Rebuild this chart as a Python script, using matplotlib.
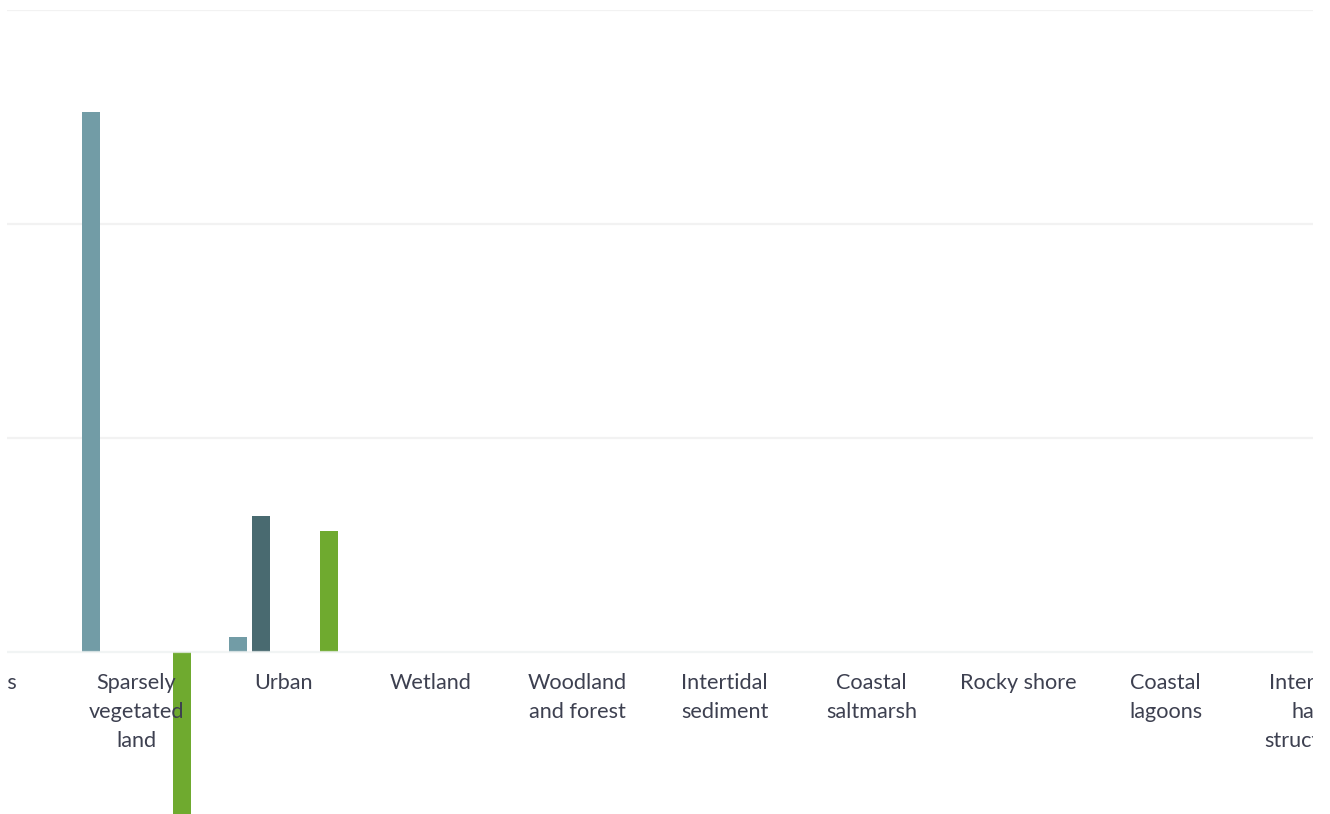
import matplotlib
matplotlib.use("Agg")
import matplotlib.pyplot as plt
import matplotlib.transforms as mtransforms
import numpy as np

categories = ["Lakes", "Sparsely\nvegetated\nland", "Urban", "Wetland",
              "Woodland\nand forest", "Intertidal\nsediment", "Coastal\nsaltmarsh",
              "Rocky shore", "Coastal\nlagoons", "Intertidal\nhard\nstructures"]
series_a = [0, 2.525, 0.07, 0, 0, 0, 0, 0, 0, 0]
series_b = [0, 0, 0.635, 0, 0, 0, 0, 0, 0, 0]
series_c = [0, 0, 0, 0, 0, 0, 0, 0, 0, 0]
series_d = [0, 0, 0, 0, 0, 0, 0, 0, 0, 0]
series_e = [0, -1.1, 0.565, 0, 0, 0, 0, 0, 0, 0]
gridvals = [0, 1, 2, 3]

colors = ["#729ca6", "#496a70", "#9bbfc6", "#2f4a50", "#6faa2f"]
series = [series_a, series_b, series_c, series_d, series_e]

W, H = 1330, 814
fig = plt.figure(figsize=(W / 100, H / 100), dpi=100)
fig.patch.set_facecolor("white")

ppu = (652 - 10) / 3.0
ybot = -1.4
bottom_px = 652 + (-ybot) * ppu
ax = fig.add_axes([7 / W, (H - bottom_px) / H, (1313 - 7) / W, (bottom_px - 10) / H])
x = np.arange(len(categories))
step = 0.1548
width = 0.1224
for k, (vals, c) in enumerate(zip(series, colors)):
    ax.bar(x + (k - 2) * step, vals, width=width, color=c, linewidth=0, zorder=2)

for g in gridvals[1:]:
    ax.axhline(g, color="#f2f2f2", lw=1.6, zorder=1)
ax.axhline(0, color="#eef2f2", lw=1.6, zorder=3, alpha=0.8)

for s in ax.spines.values():
    s.set_visible(False)
ax.set_yticks([])
ax.set_xticks([])
ax.set_xlim(0.119, 9.003)
ax.set_ylim(ybot, 3)
ax.set_facecolor("none")

label_tr = mtransforms.offset_copy(ax.transData, fig=fig, x=0, y=-15, units="points")
for xi, lab in zip(x, categories):
    ax.text(xi, 0, lab, transform=label_tr, ha="center", va="top", multialignment="center",
            fontsize=15.6, color="#3d4050", family=["Lato", "DejaVu Sans"],
            linespacing=1.58, clip_on=True)

fig.savefig("out.png", dpi=100, facecolor="white")
